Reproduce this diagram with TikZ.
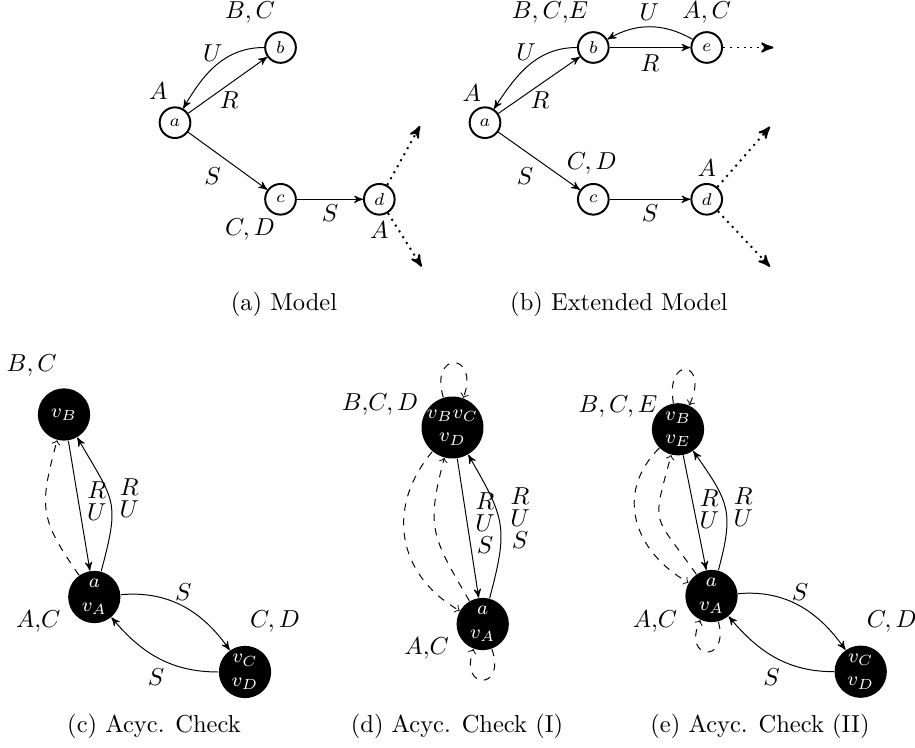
\documentclass[tikz,border=0pt]{standalone}
\usetikzlibrary{arrows,positioning,shapes.geometric}
\tikzstyle{state} = [circle, draw, thick, minimum size=4.4mm, inner sep=0pt, font=\scriptsize]
\tikzstyle{class} = [circle, fill=black, text=white, minimum size=7.5mm, inner sep=0pt, font=\footnotesize, align=center]
\tikzstyle{trans} = [->, >=stealth']
\tikzstyle{ext} = [->, >=stealth', thick, dotted]
\tikzstyle{cand} = [->, dashed]
\tikzstyle{stack} = [align=center, inner sep=0pt]

\begin{document}
\begin{tikzpicture}[x=0.01435cm,y=0.01435cm]
                    \useasboundingbox (0,0) rectangle (915,747);
                    % (a)
                    \node[state] (a1) at (175,624.3) {$a$};
                    \node[state] (b1) at (280.5,699.5) {$b$};
                    \node[state] (c1) at (280.5,547.7) {$c$};
                    \node[state] (d1) at (379.3,547.7) {$d$};
                    \coordinate (d1up) at (420,621);
                    \coordinate (d1dn) at (421.7,480.3);
                    \draw[trans] (a1) -- (b1);
                    \draw[trans] (b1) to[out=180,in=60] (a1);
                    \draw[trans] (a1) -- (c1);
                    \draw[trans] (c1) -- (d1);
                    \draw[ext] (d1) -- (d1up);
                    \draw[ext] (d1) -- (d1dn);
                    \node (la1) at (158.3,656.3) {$A$};
                    \node (lb1) at (250,734.3) {$B,C$};
                    \node (lc1) at (250,517) {$C,D$};
                    \node (ld1) at (379.3,517) {$A$};
                    \node (u1) at (212.7,694.3) {$U$};
                    \node (r1) at (229.3,647) {$R$};
                    \node (s1) at (212.7,571) {$S$};
                    \node (t1) at (330,533.7) {$S$};
                    \node (capa) at (284,443) {(a) Model};

                    % (b)
                    \node[state] (a2) at (485,624.3) {$a$};
                    \node[state] (b2) at (593.3,699.5) {$b$};
                    \node[state] (e2) at (706.7,699.5) {$e$};
                    \node[state] (c2) at (593.3,547.7) {$c$};
                    \node[state] (d2) at (706.7,547.7) {$d$};
                    \coordinate (e2out) at (773.3,699.5);
                    \coordinate (d2up) at (770,620.3);
                    \coordinate (d2dn) at (770,480.3);
                    \draw[trans] (a2) -- (b2);
                    \draw[trans] (b2) to[out=180,in=57] (a2);
                    \draw[trans] (b2) -- (e2);
                    \draw[trans] (e2) to[out=150,in=30] (b2);
                    \draw[trans] (a2) -- (c2);
                    \draw[trans] (c2) -- (d2);
                    \draw[ext] (e2) -- (e2out);
                    \draw[ext] (d2) -- (d2up);
                    \draw[ext] (d2) -- (d2dn);
                    \node (la2) at (471.7,654.3) {$A$};
                    \node (lb2) at (550,734.3) {$B, C{,}E$};
                    \node (le2) at (706.7,734.3) {$A,C$};
                    \node (lc2) at (591.7,583.7) {$C,D$};
                    \node (ld2) at (706.7,578.7) {$A$};
                    \node (u2) at (526,695.3) {$U$};
                    \node (v2) at (649.3,735.3) {$U$};
                    \node (r2) at (540,647) {$R$};
                    \node (q2) at (650,683.7) {$R$};
                    \node (s2) at (525,571) {$S$};
                    \node (t2) at (650,533.7) {$S$};
                    \node (capb) at (619,443) {(b) Extended Model};

                    % (c)
                    \node[class] (vb3) at (64,332.5) {$v_B$};
                    \node[class] (va3) at (94.3,150) {$a$\\$v_A$};
                    \node[class] (vcd3) at (245,75) {$v_C$\\$v_D$};
                    \draw[trans] (vb3) -- (va3);
                    \draw[trans] (va3) to[out=75,in=300,looseness=1.4] (vb3);
                    \draw[cand] (va3) to[out=125,in=255,looseness=1.3] (vb3);
                    \draw[trans] (va3) to[out=5,in=125] (vcd3);
                    \draw[trans] (vcd3) to[out=180,in=310] (va3);
                    \node (lb3) at (31.7,381) {$B,C$};
                    \node (la3) at (38.3,125.3) {$A{,}C$};
                    \node (lc3) at (275,125.3) {$C,D$};
                    \node[stack] (ru3) at (96.7,246.2) {$R$\\[-3pt]$U$};
                    \node[stack] (ur3) at (129.3,248.6) {$R$\\[-3pt]$U$};
                    \node (s3) at (183.3,155.3) {$S$};
                    \node (t3) at (156,70.3) {$S$};
                    \node (capc) at (154,20.3) {(c) Acyc. Check};

                    % (d)
                    \node[class] (vt4) at (452.5,319.5) {$v_Bv_C$\\$v_D$};
                    \node[class] (va4) at (482.7,123) {$a$\\$v_A$};
                    \draw[trans] (vt4) -- (va4);
                    \draw[trans] (va4) to[out=75,in=300,looseness=1.3] (vt4);
                    \draw[cand] (vt4) to[out=230,in=150,looseness=1.15] (va4);
                    \draw[cand] (va4) to[out=120,in=255,looseness=1.3] (vt4);
                    \draw[cand] (vt4) to[out=107,in=70,distance=20pt] (vt4);
                    \draw[cand] (va4) to[out=290,in=250,distance=18pt] (va4);
                    \node (lb4) at (380,342) {$B{,}C,D$};
                    \node (la4) at (426.7,98.7) {$A{,}C$};
                    \node[stack] (rus4) at (485,223.7) {$R$\\[-3pt]$U$\\[-3pt]$S$};
                    \node[stack] (sur4) at (520,229) {$R$\\[-3pt]$U$\\[-3pt]$S$};
                    \node (capd) at (457,20.3) {(d) Acyc. Check (I)};

                    % (e)
                    \node[class] (vb5) at (678,317.7) {$v_B$\\$v_E$};
                    \node[class] (va5) at (711.5,151) {$a$\\$v_A$};
                    \node[class] (vcd5) at (860.7,75.3) {$v_C$\\$v_D$};
                    \draw[trans] (vb5) -- (va5);
                    \draw[trans] (va5) to[out=75,in=305,looseness=1.3] (vb5);
                    \draw[cand] (vb5) to[out=225,in=150,looseness=1.18] (va5);
                    \draw[cand] (va5) to[out=125,in=255,looseness=1.6] (vb5);
                    \draw[cand] (vb5) to[out=100,in=65,distance=20pt] (vb5);
                    \draw[cand] (va5) to[out=285,in=245,distance=18pt] (va5);
                    \draw[trans] (va5) to[out=5,in=125] (vcd5);
                    \draw[trans] (vcd5) to[out=180,in=310] (va5);
                    \node (lb5) at (618,340.3) {$B,C,E$};
                    \node (la5) at (655,125.3) {$A{,}C$};
                    \node (lc5) at (891.7,125.3) {$C,D$};
                    \node[stack] (ru5) at (709.3,238) {$R$\\[-3pt]$U$};
                    \node[stack] (ur5) at (743.3,239.5) {$R$\\[-3pt]$U$};
                    \node (s5) at (800,155.3) {$S$};
                    \node (t5) at (771.7,70.3) {$S$};
                    \node (cape) at (760,20.3) {(e) Acyc. Check (II)};
                \end{tikzpicture}
\end{document}
